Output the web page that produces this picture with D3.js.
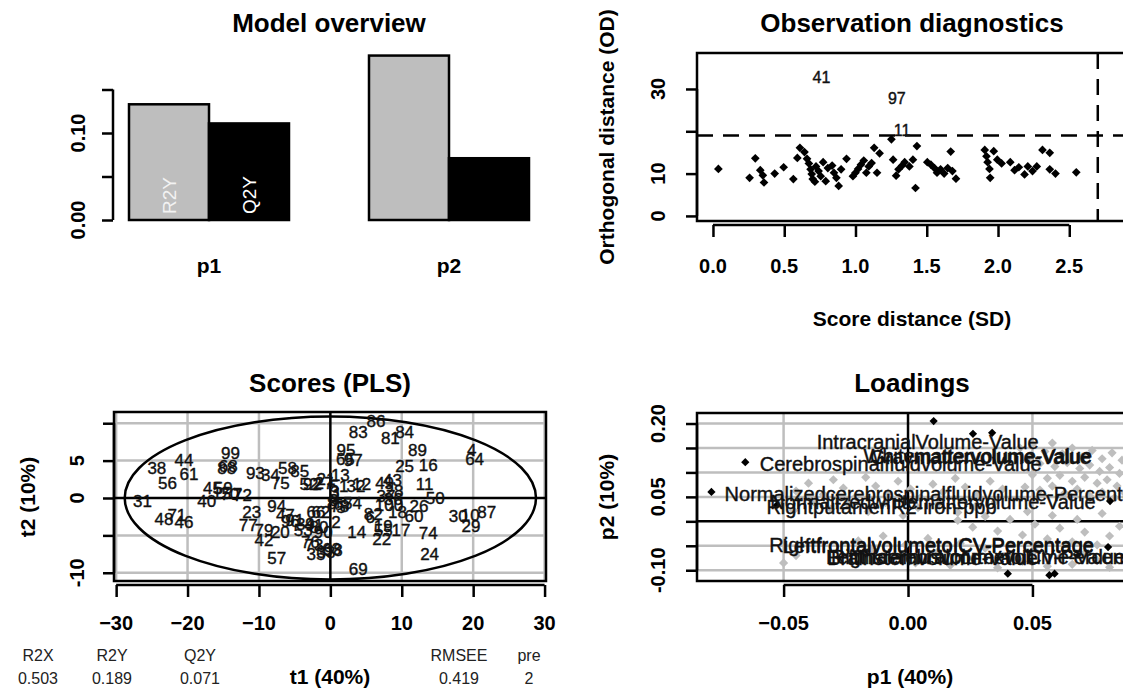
<!DOCTYPE html>
<html>
<head>
<meta charset="utf-8">
<script src="https://cdn.jsdelivr.net/npm/d3@7"></script>
<style>
  body { margin: 0; background: #fff; }
  svg text { font-family: "Liberation Sans", Arial, sans-serif; }
</style>
</head>
<body>
<svg id="chart" width="1123" height="693"></svg>
<script>
// Model overview
const compNames = ["p1", "p2"];
const r2yCum = [0.133, 0.189];
const q2Cum = [0.111, 0.071];

// Observation diagnostics: [score distance, orthogonal distance]
const sdOd = [
  [0.038, 11.1], [0.257, 9.0], [0.297, 13.6], [0.332, 10.8], [0.350, 9.6], [0.358, 7.9],
  [0.433, 10.0], [0.496, 11.5], [0.564, 8.7], [0.592, 13.7], [0.610, 16.1], [0.642, 15.1],
  [0.660, 13.5], [0.673, 12.4], [0.685, 11.0], [0.693, 9.9], [0.700, 8.7], [0.715, 8.1],
  [0.723, 11.7], [0.741, 10.6], [0.756, 9.4], [0.773, 12.7], [0.791, 8.2], [0.806, 11.3],
  [0.836, 11.9], [0.849, 10.2], [0.866, 9.0], [0.882, 7.1], [0.899, 11.0], [0.937, 13.5],
  [0.982, 9.4], [1.000, 10.2], [1.018, 11.1], [1.038, 12.1], [1.058, 13.1], [1.076, 10.2],
  [1.093, 11.7], [1.113, 12.5], [1.131, 16.1], [1.151, 10.2], [1.169, 14.8], [1.252, 18.1],
  [1.264, 13.3], [1.285, 9.5], [1.302, 11.0], [1.327, 11.9], [1.345, 12.7], [1.378, 11.7],
  [1.403, 13.3], [1.421, 6.6], [1.431, 16.5], [1.504, 12.7], [1.529, 12.1], [1.554, 11.3],
  [1.572, 10.2], [1.597, 11.0], [1.622, 10.0], [1.647, 11.3], [1.668, 15.2], [1.680, 10.6],
  [1.705, 8.8], [1.907, 15.6], [1.919, 14.1], [1.927, 12.7], [1.940, 11.1], [1.945, 9.0],
  [1.970, 15.3], [1.995, 13.3], [2.025, 12.4], [2.086, 12.7], [2.116, 10.8], [2.146, 11.5],
  [2.186, 9.8], [2.209, 11.7], [2.242, 10.6], [2.272, 11.7], [2.312, 15.6], [2.363, 14.9],
  [2.363, 11.0], [2.403, 10.0], [2.549, 10.3]
];
const odOutlierNames = ["41", "97", "11"];
const odOutlierSd = [0.761, 1.29, 1.327];
const odOutlierOd = [32.8, 27.8, 20.3];
const sdCrit = 2.70;
const odCrit = 19.0;

// Scores: [label, t1, t2]
const scores = [
  ["1", 1.0, 0.5], ["2", 0.8, -3.3], ["3", 0.6, 0.8], ["4", 19.8, 6.4], ["5", 1.5, -1.3],
  ["6", 5.6, -2.6], ["7", -13.0, 0.5], ["8", 0.2, -0.8], ["9", 0.5, -0.3], ["10", 19.6, -2.3],
  ["11", 13.2, 1.8], ["12", 4.4, 1.8], ["13", 1.4, 3.0], ["14", 3.7, -4.6], ["15", -15.2, 0.6],
  ["16", 13.7, 4.4], ["17", 9.9, -4.3], ["18", 9.4, -1.9], ["19", 7.4, -3.8], ["20", -7.0, -4.6],
  ["21", -0.6, 2.5], ["22", 7.2, -5.6], ["23", -11.0, -2.0], ["24", 13.9, -7.5], ["25", 10.4, 4.2],
  ["26", 12.4, -1.2], ["27", -0.9, 2.0], ["28", 8.9, 0.9], ["29", 19.7, -3.8], ["30", 17.9, -2.5],
  ["31", -26.3, -0.5], ["32", 3.6, 1.5], ["33", -0.6, -7.3], ["34", -8.4, 3.0], ["35", -2.0, -7.5],
  ["36", 8.8, -0.2], ["37", 7.8, 0.2], ["38", -24.3, 3.9], ["39", -3.5, -3.5], ["40", -17.3, -0.5],
  ["41", -2.3, -3.7], ["42", -9.3, -5.7], ["43", 8.7, 2.3], ["44", -20.5, 5.0], ["45", -16.5, 1.3],
  ["46", -20.5, -3.3], ["47", -6.3, -2.3], ["48", -23.3, -2.9], ["49", 7.6, 2.0], ["50", 14.7, -0.1],
  ["51", 1.2, 1.5], ["52", -3.0, 1.8], ["53", -3.8, -4.3], ["54", 3.1, -0.8], ["55", 7.4, -4.4],
  ["56", -22.8, 2.0], ["57", -7.5, -8.1], ["58", -6.0, 3.9], ["59", -15.0, 1.3], ["60", 11.7, -2.5],
  ["61", -19.8, 3.2], ["62", -1.3, -2.0], ["63", 0.2, -6.9], ["64", 20.2, 5.2], ["65", 2.1, 5.2],
  ["66", -2.0, -1.9], ["67", 1.8, -0.9], ["68", -14.3, 4.2], ["69", 3.9, -9.5], ["70", -14.1, 0.5],
  ["71", -21.5, -2.3], ["72", -12.3, 0.4], ["73", -2.3, -6.3], ["74", 13.7, -4.8], ["75", -7.0, 2.0],
  ["76", -2.8, -6.0], ["77", -11.5, -3.7], ["78", 1.3, -1.1], ["79", -9.3, -4.3], ["80", -1.6, -4.0],
  ["81", 8.4, 7.9], ["82", 6.0, -2.2], ["83", 3.9, 8.8], ["84", 10.4, 8.8], ["85", -4.3, 3.5],
  ["86", 6.4, 10.2], ["87", 21.9, -1.9], ["88", -14.5, 4.0], ["89", 12.2, 6.4], ["90", -1.0, -4.6],
  ["91", -5.0, -3.0], ["92", -2.5, 1.8], ["93", -10.5, 3.3], ["94", -7.5, -1.1], ["95", 2.2, 6.4],
  ["96", -5.6, -3.1], ["97", 3.2, 5.0], ["98", 0.4, -7.0], ["99", -14.0, 6.0], ["100", 8.2, -1.0]
];
const ellipseRadii = [28.8, 10.9];
const statNames = ["R2X", "R2Y", "Q2Y", "RMSEE", "pre"];
const statValues = ["0.503", "0.189", "0.071", "0.419", "2"];

// Loadings: unlabelled (gray) and selected (black) variables, [p1, p2]
const loadGray = [
  [0.045, 0.150], [0.050, 0.158], [0.055, 0.143], [0.058, 0.160], [0.062, 0.138], [0.066, 0.150],
  [0.070, 0.132], [0.074, 0.145], [0.078, 0.128], [0.082, 0.140], [0.086, 0.125], [0.048, 0.125],
  [0.053, 0.118], [0.059, 0.112], [0.064, 0.120], [0.069, 0.108], [0.073, 0.115], [0.077, 0.102],
  [0.081, 0.110], [0.085, 0.098], [0.050, 0.095], [0.056, 0.088], [0.061, 0.094], [0.066, 0.082],
  [0.071, 0.090], [0.076, 0.078], [0.080, 0.085], [0.084, 0.072], [0.047, 0.070], [0.053, 0.064],
  [0.058, 0.072], [0.063, 0.058], [0.068, 0.066], [0.073, 0.052], [0.078, 0.060], [0.083, 0.048],
  [0.087, 0.058],
  [-0.045, 0.062], [-0.040, 0.078], [-0.034, 0.055], [-0.030, 0.085], [-0.026, 0.068], [-0.021, 0.050],
  [-0.017, 0.090], [-0.013, 0.072], [-0.008, 0.058], [-0.004, 0.082], [0.001, 0.066], [0.005, 0.048],
  [0.010, 0.076], [0.014, 0.060], [0.019, 0.088], [0.023, 0.070], [0.028, 0.054], [0.033, 0.082],
  [0.038, 0.066], [-0.052, 0.035], [-0.046, 0.022], [-0.038, 0.040], [-0.031, 0.025], [-0.024, 0.035],
  [-0.016, 0.020], [-0.009, 0.038], [-0.002, 0.012], [0.004, 0.028], [0.012, 0.035], [0.020, 0.018],
  [0.027, 0.030], [0.035, 0.040],
  [0.020, 0.002], [0.026, -0.012], [0.031, 0.010], [0.036, -0.020], [0.041, 0.004], [0.046, -0.028],
  [0.051, -0.006], [0.056, -0.036], [0.061, -0.014], [0.066, -0.042], [0.071, -0.022], [0.076, -0.048],
  [0.081, -0.030], [0.085, -0.010], [0.048, 0.020], [0.058, 0.012], [0.068, 0.004], [0.078, 0.016],
  [-0.050, -0.085], [-0.045, -0.070], [-0.020, -0.040], [-0.015, -0.058], [-0.010, -0.030], [-0.006, -0.072],
  [-0.001, -0.048], [0.003, -0.085], [0.008, -0.035], [0.012, -0.062], [0.017, -0.090], [0.021, -0.045],
  [0.026, -0.075], [0.031, -0.055], [0.036, -0.095], [0.041, -0.068], [0.046, -0.082], [0.051, -0.060],
  [0.056, -0.092], [0.061, -0.074], [0.066, -0.088], [0.071, -0.066], [0.076, -0.080], [0.081, -0.094]
];
const loadBlack = [
  [0.0103, 0.205], [0.0261, 0.179], [0.0338, 0.181], [-0.0654, 0.121], [-0.079, 0.060],
  [-0.0527, 0.033], [0.0812, 0.0415], [0.0804, -0.0525], [0.0401, -0.107], [0.0568, -0.110],
  [0.0589, -0.107]
];
// label text, p1, p2 of the text anchor, side
const loadLabels = [
  ["IntracranialVolume-Value", -0.0367, 0.162, "start"],
  ["Whitemattervolume-Value", 0.0740, 0.133, "end"],
  ["Graymattervolume-Value", 0.0735, 0.131, "end"],
  ["Cerebrospinalfluidvolume-Value", -0.0596, 0.118, "start"],
  ["Normalizedcerebrospinalfluidvolume-Percentage", -0.0737, 0.0566, "start"],
  ["Normalizedwhitemattervolume-Value", 0.0754, 0.040, "end"],
  ["RightputamenR2-iron-ppb", -0.0569, 0.029, "start"],
  ["RightfrontalvolumetoICV-Percentage", 0.0747, -0.049, "end"],
  ["LeftfrontalvolumetoICV-Percentage", 0.0747, -0.050, "end"],
  ["LeftthalamusvolumetoICV-Percentage", -0.0330, -0.073, "start"],
  ["Brainstemvolume-Value", -0.0325, -0.074, "start"],
  ["Rightcerebralcortexvolume-Value", -0.0310, -0.072, "start"]
];

const svg = d3.select("#chart");
const boldFont = "bold";

// helpers
// ----------------------------------------
function title(g, x, y, txt) {
    g.append("text").attr("x", x).attr("y", y)
        .attr("text-anchor", "middle").attr("font-size", 26)
        .attr("font-weight", boldFont).text(txt);
}

function vtext(g, x, y, txt, size, weight) {
    g.append("text")
        .attr("transform", `translate(${x},${y}) rotate(-90)`)
        .attr("text-anchor", "middle").attr("dominant-baseline", "central")
        .attr("font-size", size).attr("font-weight", weight || "normal")
        .text(txt);
}

// bottom axis drawn R style: line only from first to last tick
function axisBottomR(g, scale, ticks, y0, labelY) {
    const a = g.append("g").attr("transform", `translate(0,${y0})`)
        .call(d3.axisBottom(scale).tickValues(ticks).tickSize(12).tickFormat(""));
    a.select(".domain").remove();
    a.selectAll("line").attr("stroke-width", 2.5);
    a.append("line")
        .attr("x1", scale(ticks[0])).attr("x2", scale(ticks[ticks.length - 1]))
        .attr("stroke", "#000").attr("stroke-width", 2.5);
    ticks.forEach(t => {
        g.append("text").attr("x", scale(t)).attr("y", labelY)
            .attr("text-anchor", "middle").attr("dominant-baseline", "central")
            .attr("font-size", 20).attr("font-weight", boldFont)
            .text(scale.fmt(t));
    });
}

function axisLeftR(g, scale, ticks, labels, x0, labelX) {
    const a = g.append("g").attr("transform", `translate(${x0},0)`)
        .call(d3.axisLeft(scale).tickValues(ticks).tickSize(11).tickFormat(""));
    a.select(".domain").remove();
    a.selectAll("line").attr("stroke-width", 2.5);
    a.append("line")
        .attr("y1", scale(ticks[0])).attr("y2", scale(ticks[ticks.length - 1]))
        .attr("stroke", "#000").attr("stroke-width", 2.5);
    ticks.forEach((t, i) => {
        if (labels[i] !== "")
            vtext(g, labelX, scale(t), labels[i], 20, boldFont);
    });
}

function diamond(size) {
    return d3.symbol(d3.symbolSquare, size)();
}

// Model overview
// ----------------------------------------
function modelOverview() {
    const g = svg.append("g");
    const x = d3.scaleLinear().domain([0.8, 6.2]).range([113, 545]);
    const y = d3.scaleLinear().domain([0, 0.15]).range([220, 89.5]);

    title(g, 329, 32, "Model overview");

    const bars = [];
    compNames.forEach((c, i) => {
        bars.push({x0: 1 + 3 * i, v: r2yCum[i], fill: "#BEBEBE", lab: "R2Y", col: "#f2f2f2"});
        bars.push({x0: 2 + 3 * i, v: q2Cum[i], fill: "#000", lab: "Q2Y", col: "#fff"});
    });

    g.selectAll("rect.bar").data(bars).join("rect")
        .attr("class", "bar")
        .attr("x", d => x(d.x0)).attr("width", d => x(d.x0 + 1) - x(d.x0))
        .attr("y", d => y(d.v)).attr("height", d => y(0) - y(d.v))
        .attr("fill", d => d.fill).attr("stroke", "#000").attr("stroke-width", 2.5);

    // in-bar legend on the first component only
    bars.slice(0, 2).forEach(d => {
        g.append("text")
            .attr("transform", `translate(${x(d.x0 + 0.5)},${y(0) - 6}) rotate(-90)`)
            .attr("dominant-baseline", "central").attr("font-size", 19)
            .attr("fill", d.col).text(d.lab);
    });

    axisLeftR(g, y, [0, 0.05, 0.10, 0.15], ["0.00", "", "0.10", ""], 113, 78);

    compNames.forEach((c, i) => {
        g.append("text").attr("x", x(2 + 3 * i)).attr("y", 265)
            .attr("text-anchor", "middle").attr("dominant-baseline", "central")
            .attr("font-size", 21).attr("font-weight", boldFont).text(c);
    });
}

// Observation diagnostics
// ----------------------------------------
function obsDiagnostics() {
    const g = svg.append("g");
    const x = d3.scaleLinear().domain([-0.112, 2.912]).range([697, 1128]);
    const y = d3.scaleLinear().domain([-1.2, 38.5]).range([221, 53]);
    x.fmt = d3.format(".1f");

    title(g, 912, 32, "Observation diagnostics");

    g.append("rect").attr("x", 697).attr("y", 53)
        .attr("width", x.range()[1] - 697).attr("height", 221 - 53)
        .attr("fill", "none").attr("stroke", "#000").attr("stroke-width", 2.5);

    g.append("line").attr("x1", 697).attr("x2", 1128)
        .attr("y1", y(odCrit)).attr("y2", y(odCrit))
        .attr("stroke", "#000").attr("stroke-width", 2.5).attr("stroke-dasharray", "16,10");
    g.append("line").attr("x1", x(sdCrit)).attr("x2", x(sdCrit))
        .attr("y1", 53).attr("y2", 221)
        .attr("stroke", "#000").attr("stroke-width", 2.5).attr("stroke-dasharray", "16,10");

    g.selectAll("path.pt").data(sdOd).join("path")
        .attr("class", "pt")
        .attr("d", diamond(38))
        .attr("transform", d => `translate(${x(d[0])},${y(d[1])}) rotate(45)`)
        .attr("fill", "#000");

    odOutlierNames.forEach((n, i) => {
        g.append("text").attr("x", x(odOutlierSd[i])).attr("y", y(odOutlierOd[i]))
            .attr("text-anchor", "middle").attr("dominant-baseline", "central")
            .attr("font-size", 16).attr("fill", "#111")
            .attr("stroke", "#111").attr("stroke-width", 0.4).text(n);
    });

    axisBottomR(g, x, [0, 0.5, 1.0, 1.5, 2.0, 2.5], 225, 266);
    axisLeftR(g, y, [0, 10, 20, 30], ["0", "10", "", "30"], 697, 658);

    g.append("text").attr("x", 912).attr("y", 318)
        .attr("text-anchor", "middle").attr("dominant-baseline", "central")
        .attr("font-size", 21).attr("font-weight", boldFont).text("Score distance (SD)");
    vtext(g, 606, 137, "Orthogonal distance (OD)", 21, boldFont);
}

// Scores (PLS)
// ----------------------------------------
function scoresPlot() {
    const g = svg.append("g");
    const x = d3.scaleLinear().domain([-30.3, 30.2]).range([114, 546]);
    const y = d3.scaleLinear().domain([-11.1, 11.5]).range([581, 412]);
    x.fmt = d3.format("d");

    title(g, 330, 392, "Scores (PLS)");

    const xt = [-30, -20, -10, 0, 10, 20, 30];
    const yt = [-10, -5, 0, 5, 10];

    g.selectAll("line.gx").data(xt.filter(t => t !== 0)).join("line")
        .attr("x1", d => x(d)).attr("x2", d => x(d)).attr("y1", 412).attr("y2", 581)
        .attr("stroke", "#BEBEBE").attr("stroke-width", 2.5);
    g.selectAll("line.gy").data(yt.filter(t => t !== 0)).join("line")
        .attr("y1", d => y(d)).attr("y2", d => y(d)).attr("x1", 114).attr("x2", 546)
        .attr("stroke", "#BEBEBE").attr("stroke-width", 2.5);
    g.append("line").attr("x1", x(0)).attr("x2", x(0)).attr("y1", 412).attr("y2", 581)
        .attr("stroke", "#000").attr("stroke-width", 2.5);
    g.append("line").attr("y1", y(0)).attr("y2", y(0)).attr("x1", 114).attr("x2", 546)
        .attr("stroke", "#000").attr("stroke-width", 2.5);

    g.append("ellipse").attr("cx", x(0)).attr("cy", y(0))
        .attr("rx", x(ellipseRadii[0]) - x(0)).attr("ry", y(0) - y(ellipseRadii[1]))
        .attr("fill", "none").attr("stroke", "#000").attr("stroke-width", 2.5);

    g.selectAll("text.sc").data(scores).join("text")
        .attr("class", "sc")
        .attr("x", d => x(d[1])).attr("y", d => y(d[2]))
        .attr("text-anchor", "middle").attr("dominant-baseline", "central")
        .attr("font-size", 17).attr("fill", "#111")
        .attr("stroke", "#111").attr("stroke-width", 0.4).text(d => d[0]);

    g.append("rect").attr("x", 114).attr("y", 412).attr("width", 546 - 114).attr("height", 581 - 412)
        .attr("fill", "none").attr("stroke", "#000").attr("stroke-width", 2.5);

    axisBottomR(g, x, xt, 585, 623);
    axisLeftR(g, y, yt, ["-10", "", "0", "5", ""], 114, 77);

    g.append("text").attr("x", 330).attr("y", 676)
        .attr("text-anchor", "middle").attr("dominant-baseline", "central")
        .attr("font-size", 21).attr("font-weight", boldFont).text("t1 (40%)");
    vtext(g, 27, 497, "t2 (10%)", 21, boldFont);

    // model summary under the plot
    const statPos = [38, 112, 200, 459, 529];
    statNames.forEach((n, i) => {
        g.append("text").attr("x", statPos[i]).attr("y", 655)
            .attr("text-anchor", "middle").attr("dominant-baseline", "central")
            .attr("font-size", 16).attr("fill", "#222").text(n);
        g.append("text").attr("x", statPos[i]).attr("y", 678)
            .attr("text-anchor", "middle").attr("dominant-baseline", "central")
            .attr("font-size", 16).attr("fill", "#222").text(statValues[i]);
    });
}

// Loadings
// ----------------------------------------
function loadingsPlot() {
    const g = svg.append("g");
    const x = d3.scaleLinear().domain([-0.0848, 0.0884]).range([697, 1128]);
    const y = d3.scaleLinear().domain([-0.122, 0.2215]).range([581, 413]);
    x.fmt = d3.format(".2f");

    title(g, 912, 392, "Loadings");

    const xt = [-0.05, 0, 0.05];
    const yt = [-0.10, -0.05, 0, 0.05, 0.10, 0.15, 0.20];

    g.selectAll("line.gx").data([-0.05, 0.05]).join("line")
        .attr("x1", d => x(d)).attr("x2", d => x(d)).attr("y1", 413).attr("y2", 581)
        .attr("stroke", "#BEBEBE").attr("stroke-width", 2.5);
    g.selectAll("line.gy").data(yt.filter(t => t !== 0)).join("line")
        .attr("y1", d => y(d)).attr("y2", d => y(d)).attr("x1", 697).attr("x2", 1128)
        .attr("stroke", "#BEBEBE").attr("stroke-width", 2.5);
    g.append("line").attr("x1", x(0)).attr("x2", x(0)).attr("y1", 413).attr("y2", 581)
        .attr("stroke", "#000").attr("stroke-width", 2.5);
    g.append("line").attr("y1", y(0)).attr("y2", y(0)).attr("x1", 697).attr("x2", 1128)
        .attr("stroke", "#000").attr("stroke-width", 2.5);

    g.selectAll("path.gp").data(loadGray).join("path")
        .attr("class", "gp").attr("d", diamond(42))
        .attr("transform", d => `translate(${x(d[0])},${y(d[1])}) rotate(45)`)
        .attr("fill", "#BEBEBE");
    g.selectAll("path.bp").data(loadBlack).join("path")
        .attr("class", "bp").attr("d", diamond(34))
        .attr("transform", d => `translate(${x(d[0])},${y(d[1])}) rotate(45)`)
        .attr("fill", "#000");

    g.selectAll("text.ll").data(loadLabels).join("text")
        .attr("class", "ll")
        .attr("x", d => x(d[1])).attr("y", d => y(d[2]))
        .attr("text-anchor", d => d[3]).attr("dominant-baseline", "central")
        .attr("font-size", 20).attr("fill", "#111")
        .attr("stroke", "#111").attr("stroke-width", 0.4)
        .text(d => d[0]);

    g.append("rect").attr("x", 697).attr("y", 413).attr("width", 1128 - 697).attr("height", 581 - 413)
        .attr("fill", "none").attr("stroke", "#000").attr("stroke-width", 2.5);

    axisBottomR(g, x, xt, 585, 623);
    axisLeftR(g, y, yt, ["-0.10", "", "", "0.05", "", "", "0.20"], 697, 658);

    g.append("text").attr("x", 910).attr("y", 676)
        .attr("text-anchor", "middle").attr("dominant-baseline", "central")
        .attr("font-size", 21).attr("font-weight", boldFont).text("p1 (40%)");
    vtext(g, 606, 497, "p2 (10%)", 21, boldFont);
}

modelOverview();
obsDiagnostics();
scoresPlot();
loadingsPlot();
</script>
</body>
</html>
